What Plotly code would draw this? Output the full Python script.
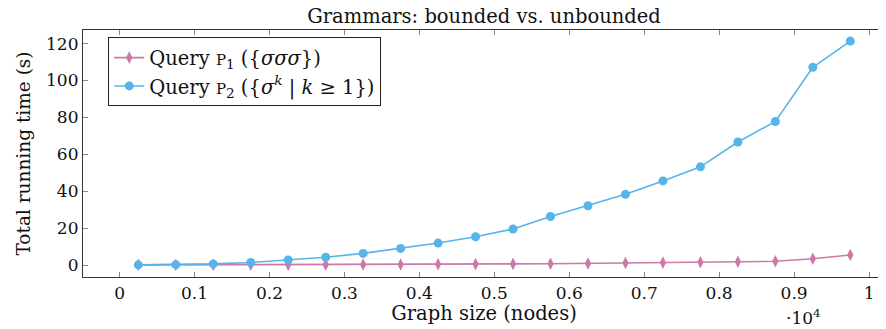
import plotly.graph_objects as go

graph_size = [250, 750, 1250, 1750, 2250, 2750, 3250, 3750, 4250, 4750,
              5250, 5750, 6250, 6750, 7250, 7750, 8250, 8750, 9250, 9750]
time_p1 = [0.05, 0.07, 0.1, 0.12, 0.15, 0.2, 0.25, 0.3, 0.4, 0.5,
           0.6, 0.7, 0.85, 1.1, 1.3, 1.5, 1.8, 2.0, 3.4, 5.4]
time_p2 = [0.1, 0.2, 0.6, 1.4, 2.7, 4.2, 6.3, 9.0, 11.9, 15.3,
           19.5, 26.3, 32.1, 38.3, 45.6, 53.2, 66.7, 77.8, 107.2, 121.4]
x_tickvals = [0, 1000, 2000, 3000, 4000, 5000, 6000, 7000, 8000, 9000, 10000]
x_ticktext = ["0", "0.1", "0.2", "0.3", "0.4", "0.5", "0.6", "0.7", "0.8", "0.9", "1"]
y_tickvals = [0, 20, 40, 60, 80, 100, 120]

FONT = "DejaVu Serif"
PINK = "#CC79A7"
BLUE = "#56B4E9"

fig = go.Figure()
fig.add_trace(go.Scatter(
    x=graph_size, y=time_p1, mode="lines+markers",
    name="Query <span style='font-size:15px'>P</span><sub>1</sub> ({<i>σσσ</i>})",
    line=dict(color=PINK, width=1.6),
    marker=dict(symbol="diamond-tall", size=9, color=PINK),
))
fig.add_trace(go.Scatter(
    x=graph_size, y=time_p2, mode="lines+markers",
    name="Query <span style='font-size:15px'>P</span><sub>2</sub> ({<i>σ</i><sup><i>k</i></sup> | <i>k</i> ≥ 1})",
    line=dict(color=BLUE, width=1.6),
    marker=dict(symbol="circle", size=9, color=BLUE),
))

axis_common = dict(
    showline=True, linecolor="#333333", linewidth=1.2, mirror="allticks",
    ticks="inside", ticklen=5, tickcolor="#888888", tickwidth=1,
    showgrid=False, zeroline=False,
    tickfont=dict(family=FONT, size=17, color="#111111"),
)

# page body has an 8px margin: figure origin sits at (8, 8) in the window
fig.update_layout(
    width=878, height=321,
    margin=dict(l=75, r=1, t=22, b=52),
    paper_bgcolor="white", plot_bgcolor="white",
    font=dict(family=FONT, size=17, color="#111111"),
    title=dict(text="Grammars: bounded vs. unbounded", xref="paper", x=0.5, xanchor="center",
               yref="container", y=0.975, yanchor="middle", font=dict(family=FONT, size=19.5)),
    xaxis=dict(range=[-488, 10213], tickvals=x_tickvals, ticktext=x_ticktext,
               title=dict(text="Graph size (nodes)", font=dict(family=FONT, size=19.5), standoff=2),
               **axis_common),
    yaxis=dict(range=[-6.5, 127.4], tickvals=y_tickvals,
               title=dict(text="Total running time (s)", font=dict(family=FONT, size=18.5), standoff=10),
               **axis_common),
    legend=dict(x=0.0315, y=0.97, xanchor="left", yanchor="top",
                bgcolor="white", bordercolor="#222222", borderwidth=1,
                font=dict(family=FONT, size=19.5), tracegroupgap=0,
                itemwidth=30),
    showlegend=True,
)
fig.add_annotation(text="·10<sup>4</sup>", xref="paper", yref="paper",
                   x=0.874, y=-0.11, xanchor="left", yanchor="top",
                   showarrow=False, font=dict(family=FONT, size=17))

fig.write_html("out.html")
